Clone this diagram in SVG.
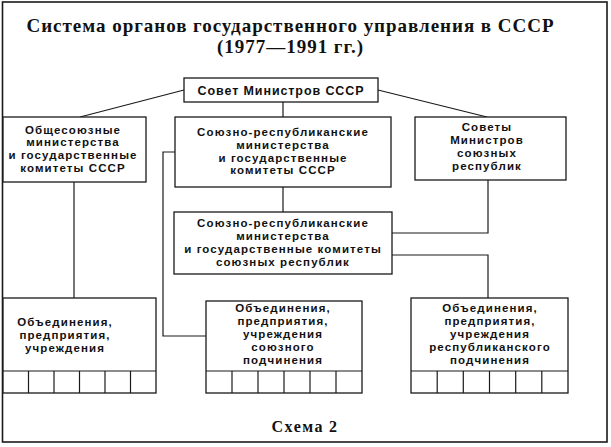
<svg xmlns="http://www.w3.org/2000/svg" width="611" height="447" viewBox="0 0 611 447">
<style>
.frame{fill:none;stroke:#1a1a1a;stroke-width:1.6}
.box{fill:#fff;stroke:#1a1a1a;stroke-width:1.3}
.cell{fill:none;stroke:#1a1a1a;stroke-width:1.2}
.con{fill:none;stroke:#1a1a1a;stroke-width:1.2}
.t{font-family:"Liberation Sans",Arial,sans-serif;font-weight:bold;font-size:11.5px;letter-spacing:1.1px;text-anchor:middle;fill:#111}
.title{font-family:"Liberation Serif","Times New Roman",serif;font-weight:bold;font-size:19px;text-anchor:middle;fill:#111}
.cap{font-family:"Liberation Serif","Times New Roman",serif;font-weight:bold;font-size:16px;letter-spacing:1.5px;text-anchor:middle;fill:#111}
</style>
<rect x="0" y="0" width="611" height="447" fill="#fff"/>
<rect class="frame" x="2.5" y="2" width="604.5" height="440"/>
<g id="title">
<text class="title" x="290" y="31.5" textLength="527" lengthAdjust="spacing">Система органов государственного управления в СССР</text>
<text class="title" x="290" y="53" textLength="146" lengthAdjust="spacing">(1977—1991 гг.)</text>
</g>
<g id="connectors">
<line class="con" x1="184" y1="90" x2="80" y2="117"/>
<line class="con" x1="378" y1="90" x2="487" y2="117"/>
<line class="con" x1="283" y1="102" x2="283" y2="117"/>
<line class="con" x1="283" y1="187" x2="283" y2="212"/>
<line class="con" x1="74" y1="182" x2="74" y2="298"/>
<polyline class="con" points="175,152 163,152 163,336 206,336"/>
<polyline class="con" points="488,180 488,233 392,233"/>
<polyline class="con" points="392,255 488,255 488,298"/>
</g>
<g id="sovmin">
<rect class="box" x="184" y="78" width="194" height="24"/>
<text class="t" x="281" y="95" style="font-size:12.5px;letter-spacing:0.9px">Совет Министров СССР</text>
</g>
<g id="obshchesoyuznye">
<rect class="box" x="3" y="117" width="143" height="65"/>
<text class="t" x="73" y="133.5">Общесоюзные</text>
<text class="t" x="73" y="146.4">министерства</text>
<text class="t" x="73" y="159.2">и государственные</text>
<text class="t" x="73" y="172">комитеты СССР</text>
</g>
<g id="soyuzno-resp-sssr">
<rect class="box" x="175" y="117" width="216" height="70"/>
<text class="t" x="283" y="135.8">Союзно-республиканские</text>
<text class="t" x="283" y="148.7">министерства</text>
<text class="t" x="283" y="161.5">и государственные</text>
<text class="t" x="283" y="174.4">комитеты СССР</text>
</g>
<g id="sovety-resp">
<rect class="box" x="415" y="117" width="151" height="63"/>
<text class="t" x="487" y="131.3">Советы</text>
<text class="t" x="487" y="144.1">Министров</text>
<text class="t" x="487" y="157">союзных</text>
<text class="t" x="487" y="169.8">республик</text>
</g>
<g id="soyuzno-resp-resp">
<rect class="box" x="174" y="212" width="218" height="62"/>
<text class="t" x="283" y="227.3">Союзно-республиканские</text>
<text class="t" x="283" y="240.1">министерства</text>
<text class="t" x="283" y="253">и государственные комитеты</text>
<text class="t" x="283" y="265.8">союзных республик</text>
</g>
<g id="obedineniya-left">
<rect class="box" x="3" y="298" width="153" height="95"/>
<line class="cell" x1="3" y1="371" x2="156" y2="371"/>
<line class="cell" x1="28.5" y1="371" x2="28.5" y2="393"/>
<line class="cell" x1="54" y1="371" x2="54" y2="393"/>
<line class="cell" x1="79.5" y1="371" x2="79.5" y2="393"/>
<line class="cell" x1="105" y1="371" x2="105" y2="393"/>
<line class="cell" x1="130.5" y1="371" x2="130.5" y2="393"/>
<text class="t" x="65" y="326">Объединения,</text>
<text class="t" x="65" y="338.9">предприятия,</text>
<text class="t" x="65" y="351.7">учреждения</text>
</g>
<g id="obedineniya-soyuz">
<rect class="box" x="206" y="301" width="156" height="92"/>
<line class="cell" x1="206" y1="371" x2="362" y2="371"/>
<line class="cell" x1="232" y1="371" x2="232" y2="393"/>
<line class="cell" x1="258" y1="371" x2="258" y2="393"/>
<line class="cell" x1="284" y1="371" x2="284" y2="393"/>
<line class="cell" x1="310" y1="371" x2="310" y2="393"/>
<line class="cell" x1="336" y1="371" x2="336" y2="393"/>
<text class="t" x="283" y="312.3">Объединения,</text>
<text class="t" x="283" y="325.1">предприятия,</text>
<text class="t" x="283" y="338">учреждения</text>
<text class="t" x="283" y="350.8">союзного</text>
<text class="t" x="283" y="363.6">подчинения</text>
</g>
<g id="obedineniya-resp">
<rect class="box" x="411" y="298" width="157" height="95"/>
<line class="cell" x1="411" y1="371" x2="568" y2="371"/>
<line class="cell" x1="437.2" y1="371" x2="437.2" y2="393"/>
<line class="cell" x1="463.3" y1="371" x2="463.3" y2="393"/>
<line class="cell" x1="489.5" y1="371" x2="489.5" y2="393"/>
<line class="cell" x1="515.7" y1="371" x2="515.7" y2="393"/>
<line class="cell" x1="541.8" y1="371" x2="541.8" y2="393"/>
<text class="t" x="490" y="312.3">Объединения,</text>
<text class="t" x="490" y="325.1">предприятия,</text>
<text class="t" x="490" y="338">учреждения</text>
<text class="t" x="490" y="350.8">республиканского</text>
<text class="t" x="490" y="363.6">подчинения</text>
</g>
<text class="cap" x="305" y="432">Схема<tspan dx="5">2</tspan></text>
</svg>
